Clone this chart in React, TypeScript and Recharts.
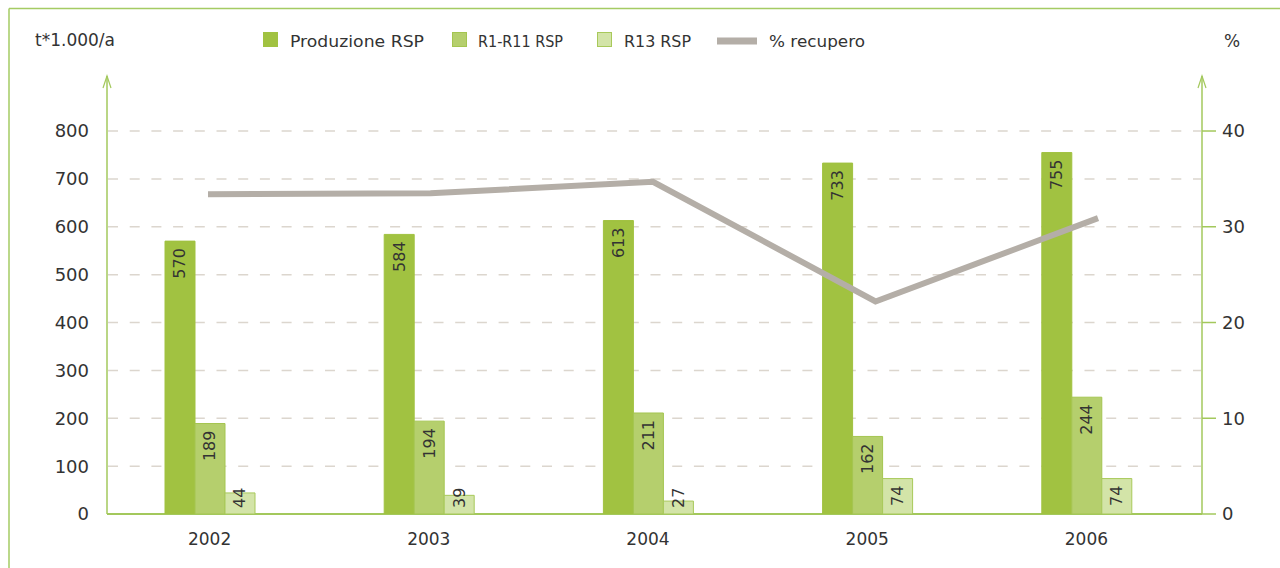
import React from 'react';
import {
  ComposedChart, Bar, Line, XAxis, YAxis, CartesianGrid, LabelList, Customized,
} from 'recharts';

const years = ['2002', '2003', '2004', '2005', '2006'];
const produzione = [570, 584, 613, 733, 755];
const r1r11 = [189, 194, 211, 162, 244];
const r13 = [44, 39, 27, 74, 74];
const recupero = [33.4, 33.5, 34.7, 22.2, 30.9];
const leftTicks = [0, 100, 200, 300, 400, 500, 600, 700, 800];
const rightTicks = [0, 10, 20, 30, 40];

const data = years.map((year, i) => ({
  year,
  idx: i,
  produzione: produzione[i],
  r1r11: r1r11[i],
  r13: r13[i],
  recupero: recupero[i],
}));

const W = 1280;
const H = 568;
const PLOT_T = 75;
const PLOT_B = 514;
const AX_L = 107;
const AX_R = 1202;
const YMAX = 917;
const FONT = '"DejaVu Sans", sans-serif';
const TEXT = '#333333';
const GREEN_AXIS = '#A3C85C';
const C1 = '#A1C241';
const C2 = '#B5CF6D';
const C2S = '#A4C550';
const C3 = '#D3E4A8';
const C3S = '#A8C95A';
const CL = '#B4AEA7';

const LeftTick = (props: any) => {
  const { x, y, payload } = props;
  return (
    <text x={x} y={y} dy="0.36em" textAnchor="end" fill={TEXT} fontSize={18} fontFamily={FONT}>
      {payload.value}
    </text>
  );
};

const RightTick = (props: any) => {
  const { y, payload } = props;
  return (
    <g>
      <line x1={AX_R} x2={AX_R + 14} y1={y} y2={y} stroke={GREEN_AXIS} strokeWidth={1.5} />
      <text x={AX_R + 20} y={y} dy="0.36em" textAnchor="start" fill={TEXT} fontSize={18} fontFamily={FONT}>
        {payload.value}
      </text>
    </g>
  );
};

const BarLabel = (props: any) => {
  const { x, y, width, height, value } = props;
  const cx = Number(x) + Number(width) / 2;
  const textLen = String(value).length * 10.2;
  const ty = Math.min(Number(y) + 7, Number(y) + Number(height) - textLen - 6);
  return (
    <text
      x={cx}
      y={ty}
      transform={`rotate(-90, ${cx}, ${ty})`}
      textAnchor="end"
      dominantBaseline="central"
      fill={TEXT}
      fontSize={16}
      fontFamily={FONT}
    >
      {value}
    </text>
  );
};

const legendItems = [
  { label: 'Produzione RSP', x: 263, tx: 290, len: 134, fill: C1, stroke: C1, type: 'rect' },
  { label: 'R1-R11 RSP', x: 452, tx: 478, len: 85, fill: C2, stroke: C2S, type: 'rect' },
  { label: 'R13 RSP', x: 597, tx: 624, len: 67, fill: C3, stroke: C3S, type: 'rect' },
  { label: '% recupero', x: 717, tx: 769, len: 96, fill: CL, stroke: CL, type: 'line' },
];

const Decor = () => (
  <g>
    <line x1={9} y1={8.5} x2={W} y2={8.5} stroke="#A5CB63" strokeWidth={1.5} />
    <line x1={9} y1={8.5} x2={9} y2={H} stroke="#A5CB63" strokeWidth={1.5} />
    <text x={35} y={46} fill={TEXT} fontSize={17} fontFamily={FONT}>t*1.000/a</text>
    <text x={1224} y={47} fill={TEXT} fontSize={17} fontFamily={FONT}>%</text>
    <line x1={AX_L} y1={PLOT_T + 1} x2={AX_L} y2={PLOT_B} stroke={GREEN_AXIS} strokeWidth={1.5} />
    <polyline points={`${AX_L - 4},${PLOT_T + 13} ${AX_L},${PLOT_T + 1} ${AX_L + 4},${PLOT_T + 13}`} fill="none" stroke={GREEN_AXIS} strokeWidth={1.2} />
    <line x1={AX_R} y1={PLOT_T + 1} x2={AX_R} y2={PLOT_B} stroke={GREEN_AXIS} strokeWidth={1.5} />
    <polyline points={`${AX_R - 4},${PLOT_T + 13} ${AX_R},${PLOT_T + 1} ${AX_R + 4},${PLOT_T + 13}`} fill="none" stroke={GREEN_AXIS} strokeWidth={1.2} />
    <line x1={AX_L} y1={PLOT_B} x2={AX_R} y2={PLOT_B} stroke={GREEN_AXIS} strokeWidth={2} />
    {legendItems.map((it) => (
      <g key={it.label}>
        {it.type === 'rect' ? (
          <rect x={it.x + 0.5} y={32.5} width={14} height={14} fill={it.fill} stroke={it.stroke} strokeWidth={1} />
        ) : (
          <line x1={it.x} x2={it.x + 40} y1={41} y2={41} stroke={it.fill} strokeWidth={7} />
        )}
        <text
          x={it.tx}
          y={47}
          fill={TEXT}
          fontSize={16.5}
          fontFamily={FONT}
          textLength={it.len}
          lengthAdjust="spacingAndGlyphs"
        >
          {it.label}
        </text>
      </g>
    ))}
  </g>
);

const gridGen = (p: any) => {
  const top = p?.offset?.top ?? PLOT_T;
  const h = p?.offset?.height ?? PLOT_B - PLOT_T;
  return leftTicks.filter((t) => t > 0).map((t) => top + h * (1 - t / YMAX));
};

export default function App() {
  return (
    <div style={{ position: 'absolute', left: 0, top: 0, width: W, height: H, background: '#fff' }}>
      <ComposedChart
        width={W}
        height={H}
        data={data}
        margin={{ top: PLOT_T, left: 40, right: 24, bottom: 24 }}
        barGap={0}
      >
        <CartesianGrid
          xAxisId="cat"
          yAxisId="left"
          vertical={false}
          stroke="#DCD6CE"
          strokeWidth={1.5}
          strokeDasharray="10 11.7"
          horizontalCoordinatesGenerator={gridGen}
          x={AX_L + 1}
          width={AX_R - AX_L - 2}
        />
        <XAxis
          xAxisId="cat"
          dataKey="year"
          type="category"
          axisLine={false}
          tickLine={false}
          tickSize={0}
          tickMargin={19}
          height={30}
          tick={{ fill: TEXT, fontSize: 17, fontFamily: FONT }}
        />
        <XAxis
          xAxisId="line"
          dataKey="idx"
          type="number"
          domain={[-0.4854, 4.4404]}
          allowDataOverflow
          hide
        />
        <YAxis
          yAxisId="left"
          orientation="left"
          width={60}
          domain={[0, YMAX]}
          ticks={leftTicks}
          allowDataOverflow
          axisLine={false}
          tickLine={false}
          tickSize={0}
          tickMargin={11}
          tick={<LeftTick />}
        />
        <YAxis
          yAxisId="right"
          orientation="right"
          width={60}
          domain={[0, YMAX / 20]}
          ticks={rightTicks}
          allowDataOverflow
          axisLine={false}
          tickLine={false}
          tickSize={0}
          tickMargin={0}
          tick={<RightTick />}
        />
        <Bar xAxisId="cat" yAxisId="left" dataKey="produzione" name="Produzione RSP" fill={C1} stroke={C1} barSize={30} isAnimationActive={false}>
          <LabelList dataKey="produzione" content={<BarLabel />} />
        </Bar>
        <Bar xAxisId="cat" yAxisId="left" dataKey="r1r11" name="R1-R11 RSP" fill={C2} stroke={C2S} barSize={30} isAnimationActive={false}>
          <LabelList dataKey="r1r11" content={<BarLabel />} />
        </Bar>
        <Bar xAxisId="cat" yAxisId="left" dataKey="r13" name="R13 RSP" fill={C3} stroke={C3S} barSize={30} isAnimationActive={false}>
          <LabelList dataKey="r13" content={<BarLabel />} />
        </Bar>
        <Line
          xAxisId="line"
          yAxisId="right"
          dataKey="recupero"
          name="% recupero"
          stroke={CL}
          strokeWidth={6}
          dot={false}
          activeDot={false}
          strokeLinejoin="miter"
          isAnimationActive={false}
        />
        <Customized component={<Decor />} />
      </ComposedChart>
    </div>
  );
}
